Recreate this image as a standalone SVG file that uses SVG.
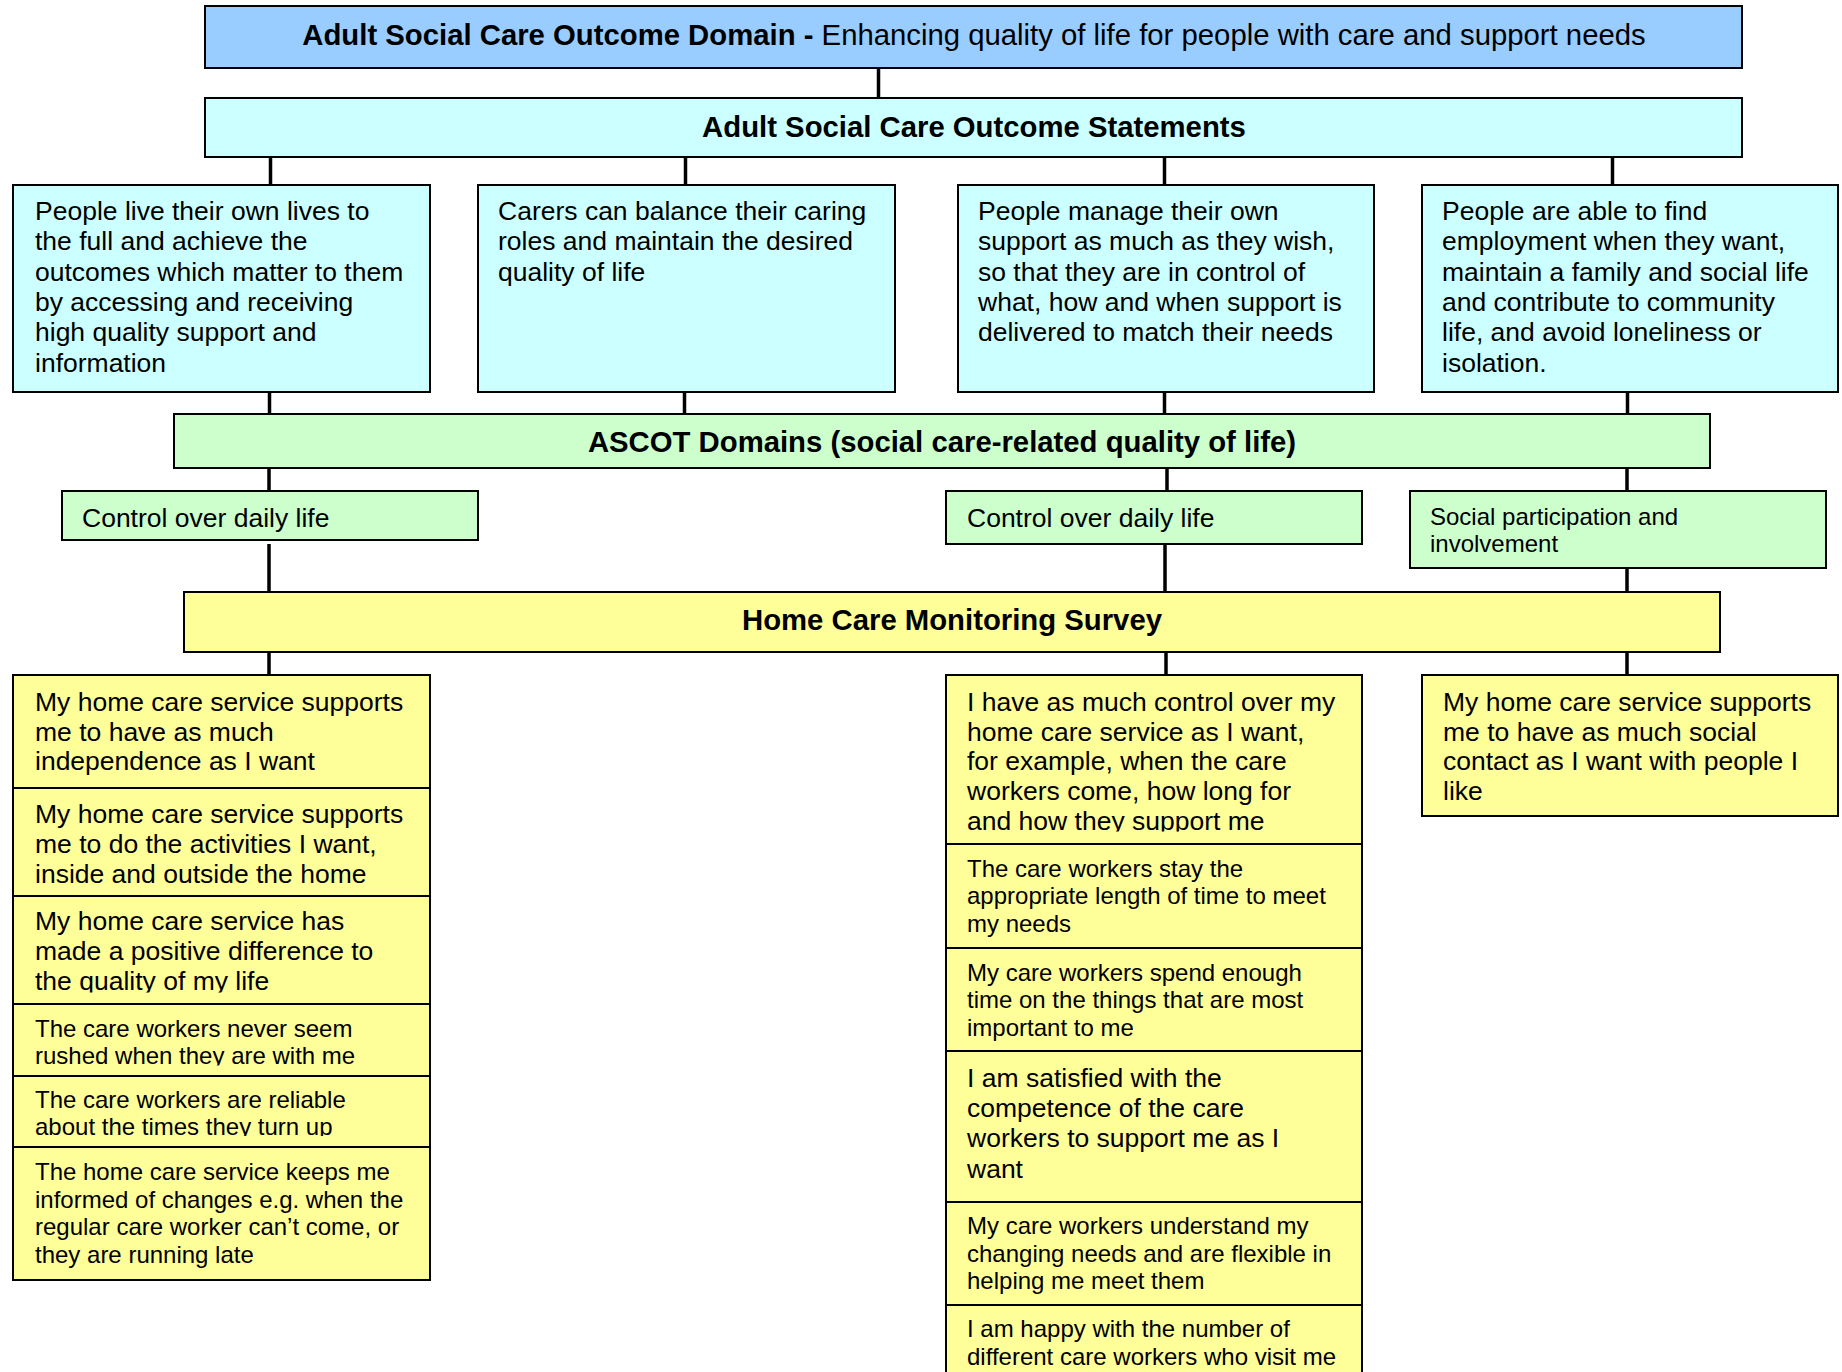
<svg xmlns="http://www.w3.org/2000/svg" width="1842" height="1372" viewBox="0 0 1842 1372">
<style>
.box{stroke:#000;stroke-width:2}
.blue{fill:#99CCFF}
.cyan{fill:#CCFFFF}
.green{fill:#CCFFCC}
.yellow{fill:#FFFF99}
text{font-family:"Liberation Sans",Arial,Helvetica,sans-serif;fill:#000}
.h{font-size:29.3px;font-weight:bold;text-anchor:middle}
.t{font-size:26.5px}
.s{font-size:24px}
.conn line{stroke:#000;stroke-width:3.5}
</style>
<defs>
<clipPath id="cL3"><rect x="13" y="896" width="417" height="96.5"/></clipPath>
<clipPath id="cL4"><rect x="13" y="1004" width="417" height="61.5"/></clipPath>
<clipPath id="cL5"><rect x="13" y="1076" width="417" height="60"/></clipPath>
<clipPath id="cM1"><rect x="946" y="675" width="416" height="156.5"/></clipPath>
</defs>
<rect width="1842" height="1372" fill="#fff"/>
<g class="conn" id="connectors">
<line x1="878.5" y1="68" x2="878.5" y2="98"/>
<line x1="270.5" y1="157" x2="270.5" y2="185"/>
<line x1="685.5" y1="157" x2="685.5" y2="185"/>
<line x1="1164.5" y1="157" x2="1164.5" y2="185"/>
<line x1="1612.5" y1="157" x2="1612.5" y2="185"/>
<line x1="269.5" y1="392" x2="269.5" y2="414"/>
<line x1="684.5" y1="392" x2="684.5" y2="414"/>
<line x1="1164.5" y1="392" x2="1164.5" y2="414"/>
<line x1="1627.5" y1="392" x2="1627.5" y2="414"/>
<line x1="269" y1="468" x2="269" y2="491"/>
<line x1="1167" y1="468" x2="1167" y2="491"/>
<line x1="1627" y1="468" x2="1627" y2="491"/>
<line x1="269" y1="544" x2="269" y2="592"/>
<line x1="1165" y1="544" x2="1165" y2="592"/>
<line x1="1627" y1="568" x2="1627" y2="592"/>
<line x1="269" y1="652" x2="269" y2="675"/>
<line x1="1166" y1="652" x2="1166" y2="675"/>
<line x1="1627" y1="652" x2="1627" y2="675"/>
</g>
<g id="domain">
<rect class="box blue" x="205" y="6" width="1537" height="62"/>
<text class="h" x="974" y="45"><tspan>Adult Social Care Outcome Domain - </tspan><tspan font-weight="normal">Enhancing quality of life for people with care and support needs</tspan></text>
</g>
<g id="statements">
<rect class="box cyan" x="205" y="98" width="1537" height="59"/>
<text class="h" x="974" y="137">Adult Social Care Outcome Statements</text>
</g>
<g id="statement1">
<rect class="box cyan" x="13" y="185" width="417" height="207"/>
<text class="t"><tspan x="35" y="220">People live their own lives to</tspan><tspan x="35" y="250.3">the full and achieve the</tspan><tspan x="35" y="280.6">outcomes which matter to them</tspan><tspan x="35" y="311">by accessing and receiving</tspan><tspan x="35" y="341.3">high quality support and</tspan><tspan x="35" y="371.6">information</tspan></text>
</g>
<g id="statement2">
<rect class="box cyan" x="478" y="185" width="417" height="207"/>
<text class="t"><tspan x="498" y="220">Carers can balance their caring</tspan><tspan x="498" y="250.3">roles and maintain the desired</tspan><tspan x="498" y="280.6">quality of life</tspan></text>
</g>
<g id="statement3">
<rect class="box cyan" x="958" y="185" width="416" height="207"/>
<text class="t"><tspan x="978" y="220">People manage their own</tspan><tspan x="978" y="250.3">support as much as they wish,</tspan><tspan x="978" y="280.6">so that they are in control of</tspan><tspan x="978" y="311">what, how and when support is</tspan><tspan x="978" y="341.3">delivered to match their needs</tspan></text>
</g>
<g id="statement4">
<rect class="box cyan" x="1422" y="185" width="416" height="207"/>
<text class="t"><tspan x="1442" y="220">People are able to find</tspan><tspan x="1442" y="250.3">employment when they want,</tspan><tspan x="1442" y="280.6">maintain a family and social life</tspan><tspan x="1442" y="311">and contribute to community</tspan><tspan x="1442" y="341.3">life, and avoid loneliness or</tspan><tspan x="1442" y="371.6">isolation.</tspan></text>
</g>
<g id="ascot">
<rect class="box green" x="174" y="414" width="1536" height="54"/>
<text class="h" x="942" y="452">ASCOT Domains (social care-related quality of life)</text>
</g>
<g id="control1">
<rect class="box green" x="62" y="491" width="416" height="49"/>
<text class="t" x="82" y="527">Control over daily life</text>
</g>
<g id="control2">
<rect class="box green" x="946" y="491" width="416" height="53"/>
<text class="t" x="967" y="527">Control over daily life</text>
</g>
<g id="social">
<rect class="box green" x="1410" y="491" width="416" height="77"/>
<text class="s"><tspan x="1430" y="525">Social participation and</tspan><tspan x="1430" y="551.5">involvement</tspan></text>
</g>
<g id="survey">
<rect class="box yellow" x="184" y="592" width="1536" height="60"/>
<text class="h" x="952" y="630">Home Care Monitoring Survey</text>
</g>
<g id="left1">
<rect class="box yellow" x="13" y="675" width="417" height="113"/>
<text class="t"><tspan x="35" y="710.7">My home care service supports</tspan><tspan x="35" y="740.5">me to have as much</tspan><tspan x="35" y="770.3">independence as I want</tspan></text>
</g>
<g id="left2">
<rect class="box yellow" x="13" y="788" width="417" height="108"/>
<text class="t"><tspan x="35" y="823.3">My home care service supports</tspan><tspan x="35" y="853">me to do the activities I want,</tspan><tspan x="35" y="882.7">inside and outside the home</tspan></text>
</g>
<g id="left3">
<rect class="box yellow" x="13" y="896" width="417" height="108"/>
<text class="t" clip-path="url(#cL3)"><tspan x="35" y="930">My home care service has</tspan><tspan x="35" y="960">made a positive difference to</tspan><tspan x="35" y="990">the quality of my life</tspan></text>
</g>
<g id="left4">
<rect class="box yellow" x="13" y="1004" width="417" height="72"/>
<text class="s" clip-path="url(#cL4)"><tspan x="35" y="1037.3">The care workers never seem</tspan><tspan x="35" y="1064.3">rushed when they are with me</tspan></text>
</g>
<g id="left5">
<rect class="box yellow" x="13" y="1076" width="417" height="71"/>
<text class="s" clip-path="url(#cL5)"><tspan x="35" y="1108.3">The care workers are reliable</tspan><tspan x="35" y="1135">about the times they turn up</tspan></text>
</g>
<g id="left6">
<rect class="box yellow" x="13" y="1147" width="417" height="133"/>
<text class="s"><tspan x="35" y="1180">The home care service keeps me</tspan><tspan x="35" y="1207.5">informed of changes e.g. when the</tspan><tspan x="35" y="1235">regular care worker can’t come, or</tspan><tspan x="35" y="1262.5">they are running late</tspan></text>
</g>
<g id="mid1">
<rect class="box yellow" x="946" y="675" width="416" height="169"/>
<text class="t" clip-path="url(#cM1)"><tspan x="967" y="710.7">I have as much control over my</tspan><tspan x="967" y="740.5">home care service as I want,</tspan><tspan x="967" y="770.3">for example, when the care</tspan><tspan x="967" y="800.1">workers come, how long for</tspan><tspan x="967" y="830">and how they support me</tspan></text>
</g>
<g id="mid2">
<rect class="box yellow" x="946" y="844" width="416" height="104"/>
<text class="s"><tspan x="967" y="876.7">The care workers stay the</tspan><tspan x="967" y="904.2">appropriate length of time to meet</tspan><tspan x="967" y="931.7">my needs</tspan></text>
</g>
<g id="mid3">
<rect class="box yellow" x="946" y="948" width="416" height="103"/>
<text class="s"><tspan x="967" y="980.7">My care workers spend enough</tspan><tspan x="967" y="1008.2">time on the things that are most</tspan><tspan x="967" y="1035.7">important to me</tspan></text>
</g>
<g id="mid4">
<rect class="box yellow" x="946" y="1051" width="416" height="151"/>
<text class="t"><tspan x="967" y="1086.7">I am satisfied with the</tspan><tspan x="967" y="1117">competence of the care</tspan><tspan x="967" y="1147.3">workers to support me as I</tspan><tspan x="967" y="1177.5">want</tspan></text>
</g>
<g id="mid5">
<rect class="box yellow" x="946" y="1202" width="416" height="103"/>
<text class="s"><tspan x="967" y="1234">My care workers understand my</tspan><tspan x="967" y="1261.7">changing needs and are flexible in</tspan><tspan x="967" y="1289.3">helping me meet them</tspan></text>
</g>
<g id="mid6">
<rect class="box yellow" x="946" y="1305" width="416" height="80"/>
<text class="s"><tspan x="967" y="1337.3">I am happy with the number of</tspan><tspan x="967" y="1365">different care workers who visit me</tspan></text>
</g>
<g id="right1">
<rect class="box yellow" x="1422" y="675" width="416" height="141"/>
<text class="t"><tspan x="1443" y="710.7">My home care service supports</tspan><tspan x="1443" y="740.5">me to have as much social</tspan><tspan x="1443" y="770.3">contact as I want with people I</tspan><tspan x="1443" y="800.1">like</tspan></text>
</g>
</svg>
